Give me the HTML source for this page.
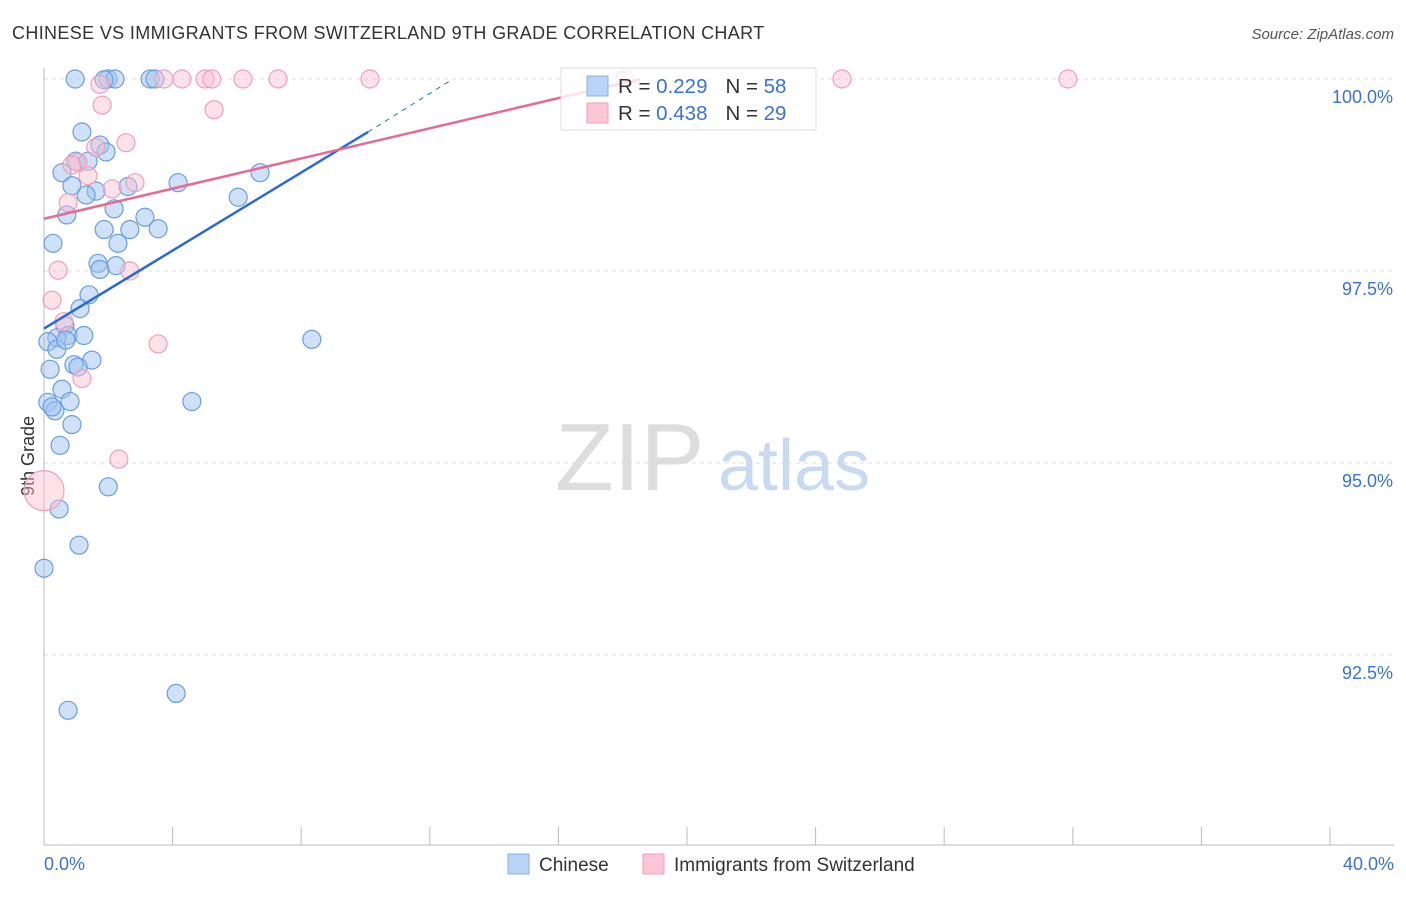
<!DOCTYPE html>
<html><head><meta charset="utf-8"><style>
body{margin:0;background:#fff;font-family:"Liberation Sans",sans-serif}
svg text{font-family:"Liberation Sans",sans-serif}
</style></head><body>
<svg id="c" width="1406" height="892">
<text x="12" y="39" font-size="18" letter-spacing="0.35" fill="#333">CHINESE VS IMMIGRANTS FROM SWITZERLAND 9TH GRADE CORRELATION CHART</text>
<text x="1394" y="39" font-size="15" fill="#555" font-style="italic" text-anchor="end">Source: ZipAtlas.com</text>
<text x="555" y="490" font-size="96" fill="#ddd" font-family="Liberation Serif">ZIP</text>
<text x="718" y="490" font-size="72" fill="#c8daf2">atlas</text>
<text transform="translate(34,456) rotate(-90)" font-size="18" fill="#333" text-anchor="middle">9th Grade</text>
<g id="grid"></g><g id="pts"></g><g id="lines"></g>
<g>
<rect x="561" y="68" width="255" height="62" fill="rgba(255,255,255,0.8)" stroke="#ddd"/>
<rect x="587" y="76" width="21" height="20" fill="#b8d3f5" stroke="#8ab0e8"/>
<rect x="587" y="103" width="21" height="20" fill="#fcc6d6" stroke="#f0a0b8"/>
<text x="618" y="93" font-size="20.5" fill="#333">R = <tspan fill="#3a72d4">0.229</tspan><tspan dx="18">N = </tspan><tspan fill="#3a72d4">58</tspan></text>
<text x="618" y="120" font-size="20.5" fill="#333">R = <tspan fill="#3a72d4">0.438</tspan><tspan dx="18">N = </tspan><tspan fill="#3a72d4">29</tspan></text>
</g>
<g>
<rect x="508" y="854" width="21" height="20" fill="#b8d3f5" stroke="#8ab0e8"/>
<text x="539" y="871" font-size="19" fill="#333">Chinese</text>
<rect x="643" y="854" width="21" height="20" fill="#fcc6d6" stroke="#f0a0b8"/>
<text x="674" y="871" font-size="19" fill="#333">Immigrants from Switzerland</text>
</g>
</svg>
<script>
const yTicks=[100,97.5,95,92.5];
const yTickLabels=["100.0%","97.5%","95.0%","92.5%"];
const xTicks=[0,4,8,12,16,20,24,28,32,36,40];
const blueX=[0.97,1.99,2.21,3.3,3.45,1.18,0.56,0.87,0.99,1.37,1.74,1.93,1.62,1.31,2.61,4.17,6.04,6.72,0.71,2.18,3.14,3.55,1.87,2.67,2.3,0.28,2.24,1.68,1.74,1.4,1.12,0.65,0.75,1.24,0.4,0.12,0.4,1.49,0.19,0.93,1.06,8.33,0.56,0.12,0.81,0.34,4.6,0.87,0.5,2.0,0.47,1.09,0,4.11,0.75,0.25,0.68,1.87];
const blueY=[100,100,100,100,100,99.31,98.78,98.61,98.93,98.93,99.14,99.05,98.54,98.49,98.6,98.65,98.46,98.78,98.23,98.31,98.2,98.05,98.04,98.04,97.86,97.86,97.57,97.6,97.52,97.19,97.01,96.79,96.66,96.66,96.63,96.58,96.48,96.34,96.22,96.28,96.25,96.61,95.96,95.79,95.8,95.68,95.8,95.5,95.23,94.69,94.4,93.93,93.63,92.0,91.78,95.73,96.6,99.99];
const pinkX=[1.74,1.81,3.73,4.29,5.01,5.22,6.19,7.28,10.14,18.07,24.82,31.85,5.29,2.55,1.61,1.06,1.37,2.83,2.12,0.75,0.44,2.67,0.25,0.62,3.55,1.18,2.33,0,0.87];
const pinkY=[99.93,99.66,100,100,100,100,100,100,100,100,100,100,99.6,99.17,99.11,98.91,98.74,98.65,98.57,98.39,97.51,97.5,97.12,96.84,96.55,96.1,95.05,94.64,98.88];
const pinkR=[9,9,9,9,9,9,9,9,9,9,9,9,9,9,9,9,9,9,9,9,9,9,9,9,9,9,9,20,9];
const blueFit=[[0,96.75],[10.08,99.31]];
const blueDash=[[10.08,99.31],[12.72,100]];
const pinkFit=[[0,98.18],[18.54,100]];
const X=v=>44+v/40*1286, Y=v=>79+(100-v)*76.8;
const NS="http://www.w3.org/2000/svg";
function mk(tag,attrs,parent){const e=document.createElementNS(NS,tag);for(const k in attrs)e.setAttribute(k,attrs[k]);document.getElementById(parent).appendChild(e);return e;}
yTicks.forEach((t,i)=>{
 const l=mk('line',{x1:44,x2:1394,y1:Y(t),y2:Y(t),stroke:'#ddd','stroke-dasharray':'4,4'},'grid');
 
 
 const tx=mk('text',{x:1393,y:Y(t)+24,'font-size':18,fill:'#3a72d4','text-anchor':'end'},'grid');
 tx.textContent=yTickLabels[i];
 
 
});
const ax=mk('line',{x1:44,x2:44,y1:68,y2:845,stroke:'#bbb'},'grid');


const bx=mk('line',{x1:44,x2:1394,y1:845,y2:845,stroke:'#bbb'},'grid');


xTicks.forEach(t=>{const l=mk('line',{x1:X(t),x2:X(t),y1:827,y2:845,stroke:'#bbb'},'grid');
 
 });
const xl=mk('text',{x:44,y:870,'font-size':18,fill:'#3a72d4'},'grid');xl.textContent='0.0%';


const xr=mk('text',{x:1394,y:870,'font-size':18,fill:'#3a72d4','text-anchor':'end'},'grid');xr.textContent='40.0%';


blueX.forEach((v,i)=>{const c=mk('circle',{cx:X(v),cy:Y(blueY[i]),r:9,fill:'rgba(160,196,240,0.5)',stroke:'#6a9ee0','stroke-width':1.2},'pts');
 
 });
pinkX.forEach((v,i)=>{const c=mk('circle',{cx:X(v),cy:Y(pinkY[i]),r:pinkR[i],fill:'rgba(250,190,208,0.45)',stroke:'#eea0b8','stroke-width':1.2},'pts');
 
 });
function ln(p,st,dash,name,w){const l=mk('line',{x1:X(p[0][0]),y1:Y(p[0][1]),x2:X(p[1][0]),y2:Y(p[1][1]),stroke:st,'stroke-width':w},'lines');
 if(dash)l.setAttribute('stroke-dasharray',dash);
 
 }
ln(blueFit,'#2a6ad4',null,'chinese-trend-line',2.5);
ln(blueDash,'#2a6ad4','5,5','chinese-trend-extension',1);
ln(pinkFit,'#e66a94',null,'switzerland-trend-line',2.5);
</script>
</body></html>
